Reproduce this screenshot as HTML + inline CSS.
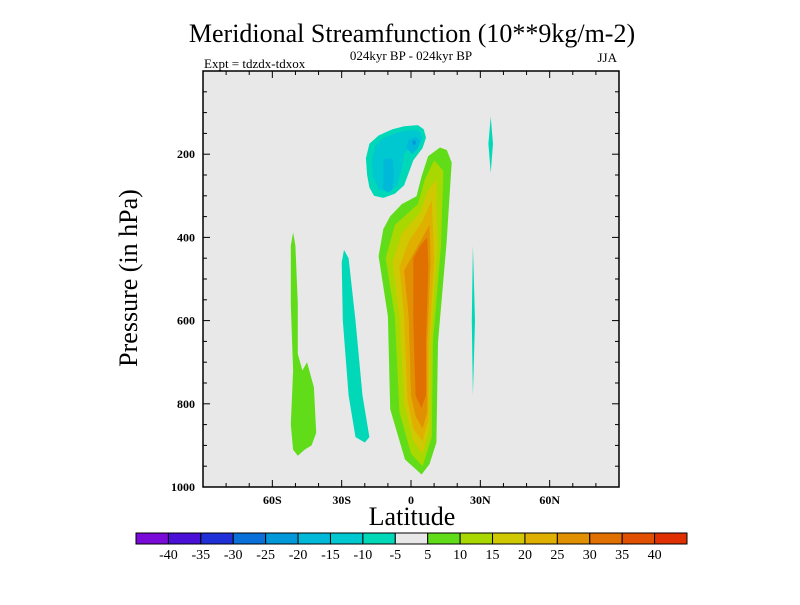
<!DOCTYPE html>
<html><head><meta charset="utf-8">
<style>
body{margin:0;background:#fff;}
svg text{font-family:"Liberation Serif",serif;}
</style></head>
<body>
<svg id="c" width="800" height="600" xmlns="http://www.w3.org/2000/svg">
<text x="412" y="42" font-size="26" text-anchor="middle">Meridional Streamfunction (10**9kg/m-2)</text>
<text x="411" y="60" font-size="13" text-anchor="middle">024kyr BP - 024kyr BP</text>
<text x="204" y="68" font-size="13">Expt = tdzdx-tdxox</text>
<text x="617" y="62" font-size="13" text-anchor="end">JJA</text>
<text x="412" y="525" font-size="26" text-anchor="middle">Latitude</text>
<text transform="translate(137,278) rotate(-90)" font-size="26" text-anchor="middle">Pressure (in hPa)</text>
<g id="plot"></g>
<g id="cbar"></g>
</svg>
<script>
const latTicks=[-60,-30,0,30,60];
const latLabels=["60S","30S","0","30N","60N"];
const presTicks=[200,400,600,800,1000];
const cbarColors=["#7a0ad8","#4a10d8","#2030d8","#0870d8","#0098d8","#00b8d8","#00c8d0","#00d8b8","#e8e8e8","#60dc18","#a8d800","#d0c800","#e0b000","#e09000","#e07000","#e05000","#e03000"];
const cbarLabels=["-40","-35","-30","-25","-20","-15","-10","-5","5","10","15","20","25","30","35","40"];
// contour regions: [lat,pressure] vertices
const negOuter=[[-8,140],[-3,133],[3,130],[5.5,140],[6.5,160],[5,185],[1,215],[-1,245],[-3,275],[-7,295],[-12,305],[-16,300],[-18,280],[-19,250],[-19.5,210],[-18,175],[-14,155]];
const negMid=[[-6,148],[-2,143],[3,142],[5,160],[3,185],[-1,185],[-3,200],[-4,235],[-6,275],[-10,290],[-14,285],[-16.5,255],[-17,215],[-15.5,180],[-12,160]];
const negInnerA=[[-12,212],[-8,210],[-7.5,250],[-8,285],[-10,292],[-12,282]];
const negInnerB=[[-1,165],[2,158],[4,168],[3,185],[0.5,200],[-2,185]];
const negCore=[[0.7,167],[2,167],[2,177],[0.7,177]];
const negStripS=[[-29,430],[-27,450],[-24,600],[-21,780],[-18,880],[-20,893],[-24,880],[-27,780],[-29.5,600],[-30,460]];
const negStreakA=[[34.5,110],[35.5,175],[34.5,245],[33.5,175]];
const negStreakB=[[26.8,420],[27.7,600],[26.8,780],[26.3,600]];
const posSouth=[[-51,388],[-50,420],[-49,560],[-49,680],[-47,720],[-45,700],[-42,760],[-41,870],[-43,900],[-46,910],[-49,925],[-51,910],[-52,850],[-51,720],[-52,560],[-52,420]];
const pos5=[[12.5,184],[15.5,190],[17.6,220],[15.4,412],[11.7,652],[11,893],[8,945],[4.6,970],[-2.6,934],[-9,813],[-10,590],[-14,445],[-12,380],[-9,349],[-4,320],[2.4,301],[4.6,253],[7.4,205]];
const pos10=[[10,215],[14,240],[13,420],[9.5,650],[9,880],[5,950],[0,920],[-5,820],[-7,590],[-11,450],[-7,370],[3,320],[6,260]];
const pos15=[[11,260],[11.5,420],[8.5,650],[8,860],[5,920],[1,890],[-3,800],[-5,590],[-8,460],[-4,390],[4,340],[7,290]];
const pos20=[[9,310],[10,450],[8,650],[7.5,840],[5,890],[1,860],[-1.5,790],[-3,590],[-5,470],[-1,410],[5,360]];
const pos25=[[8,370],[8.5,460],[7,650],[7,820],[5,860],[2,830],[0,780],[-1,590],[-3,480],[2,430],[6,390]];
const pos30=[[7,400],[7.5,470],[6.5,650],[6.5,780],[4.5,810],[2,780],[1,600],[1,450],[4,420]];

const X0=203,X1=619,Y0=71,Y1=487;
const xs=lat=>X0+(lat+90)/180*(X1-X0);
const ys=p=>Y0+p/1000*(Y1-Y0);
const NS="http://www.w3.org/2000/svg";
function mk(t,a,parent){const e=document.createElementNS(NS,t);for(const k in a)e.setAttribute(k,a[k]);parent.appendChild(e);return e;}
const plot=document.getElementById('plot');
const bg=mk('rect',{x:X0,y:Y0,width:X1-X0,height:Y1-Y0,fill:'#e8e8e8'},plot);


const regions=[[negOuter,7,'neg-cell-5'],[negMid,6,'neg-cell-10'],[negInnerA,5,'neg-cell-15a'],[negInnerB,5,'neg-cell-15b'],[negCore,4,'neg-cell-20'],
[negStripS,7,'neg-strip-south'],[negStreakA,7,'neg-streak-upper'],[negStreakB,7,'neg-streak-lower'],[posSouth,9,'pos-cell-south'],
[pos5,9,'pos-cell-5'],[pos10,10,'pos-cell-10'],[pos15,11,'pos-cell-15'],[pos20,12,'pos-cell-20'],[pos25,13,'pos-cell-25'],[pos30,14,'pos-cell-30']];
regions.forEach(r=>{
  const pts=r[0].map(d=>xs(d[0]).toFixed(1)+','+ys(d[1]).toFixed(1)).join(' ');
  const e=mk('polygon',{points:pts,fill:cbarColors[r[1]],'stroke-linejoin':'round'},plot);
  
  
});
const fr=mk('rect',{x:X0,y:Y0,width:X1-X0,height:Y1-Y0,fill:'none',stroke:'#000','stroke-width':1.5},plot);


for(let lat=-80;lat<=80;lat+=10){
  const L=latTicks.includes(lat)?7:4;
  mk('line',{x1:xs(lat),x2:xs(lat),y1:Y1,y2:Y1-L,stroke:'#000'},plot);
  mk('line',{x1:xs(lat),x2:xs(lat),y1:Y0,y2:Y0+L,stroke:'#000'},plot);
}
for(let p=50;p<1000;p+=50){
  const L=presTicks.includes(p)?7:4;
  mk('line',{x1:X0,x2:X0+L,y1:ys(p),y2:ys(p),stroke:'#000'},plot);
  mk('line',{x1:X1,x2:X1-L,y1:ys(p),y2:ys(p),stroke:'#000'},plot);
}
latTicks.forEach((lat,i)=>{
  const t=mk('text',{x:xs(lat),y:Y1+17,'font-size':12,'font-weight':'bold','text-anchor':'middle'},plot);
  t.textContent=latLabels[i];
  
  
});
presTicks.forEach(p=>{
  const t=mk('text',{x:X0-8,y:ys(p)+4,'font-size':12,'font-weight':'bold','text-anchor':'end'},plot);
  t.textContent=p;
  
  
});
const cb=document.getElementById('cbar');
const CB0=136,CB1=687,CBY=533,CBH=11,bw=(CB1-CB0)/cbarColors.length;
cbarColors.forEach((c,i)=>{
  const r=mk('rect',{x:CB0+i*bw,y:CBY,width:bw,height:CBH,fill:c,stroke:'#000','stroke-width':1},cb);
  
  
});
cbarLabels.forEach((l,i)=>{
  const t=mk('text',{x:CB0+(i+1)*bw,y:CBY+26,'font-size':14,'text-anchor':'middle'},cb);
  t.textContent=l;
  
  
});
</script>
</body></html>
